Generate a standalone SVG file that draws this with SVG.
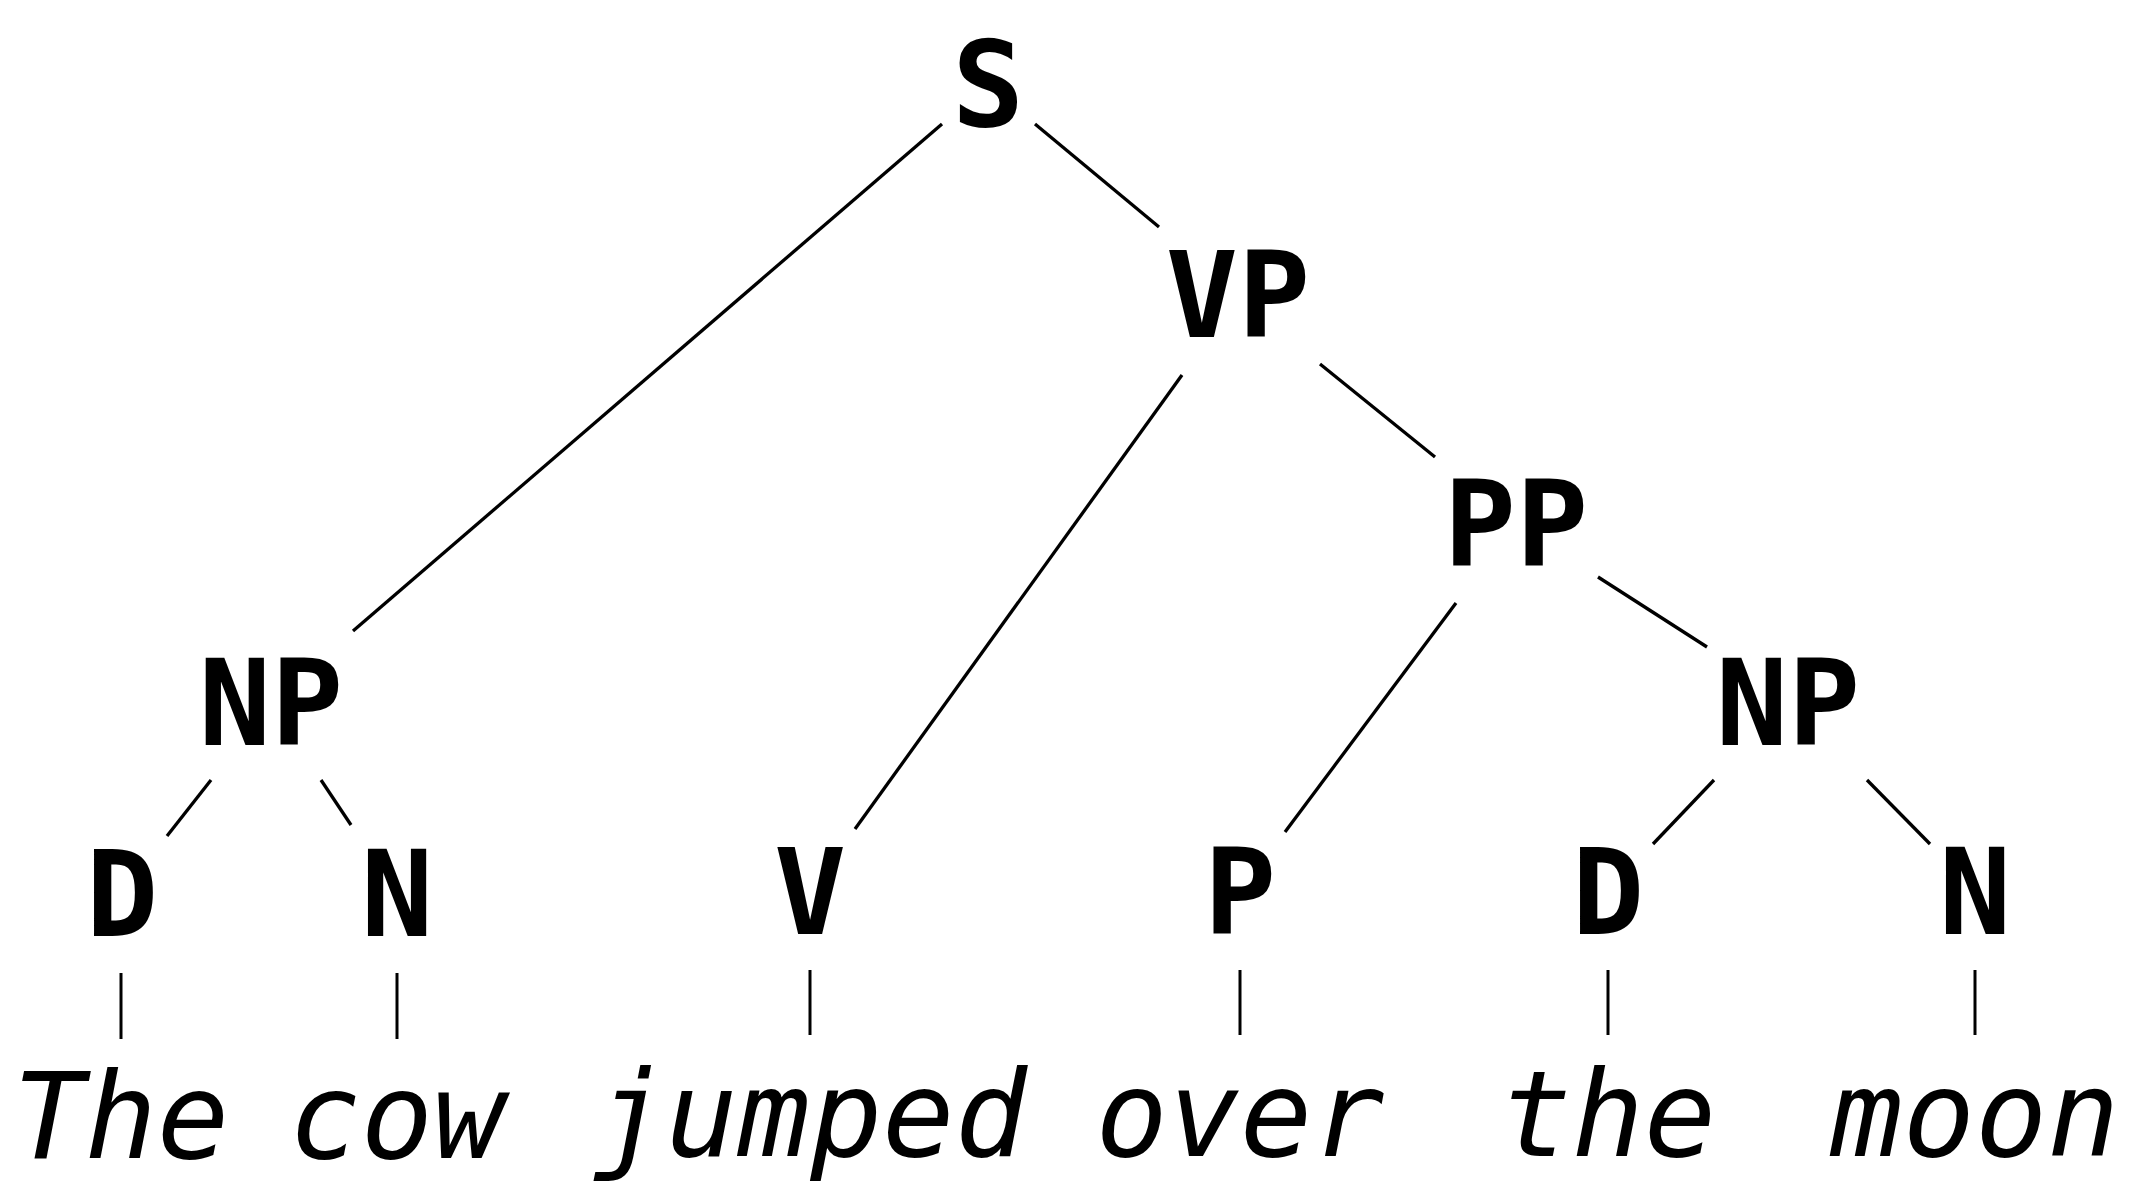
<svg xmlns="http://www.w3.org/2000/svg" width="2145" height="1196" viewBox="0 0 2145 1196">
<style>
.lbl{font-family:"DejaVu Sans Mono","Liberation Mono",monospace;font-weight:bold;font-size:120px;text-anchor:middle;fill:#000}
.word{font-family:"DejaVu Sans Mono","Liberation Mono",monospace;font-style:oblique;font-size:120px;text-anchor:middle;fill:#000}
.e{stroke:#000;stroke-width:3.3;fill:none}
.lf{stroke:#000;stroke-width:3;fill:none}
</style>
<rect width="2145" height="1196" fill="#fff"/>
<g id="connectors">
<line class="e" x1="942" y1="124" x2="353" y2="631"/>
<line class="e" x1="1035" y1="124" x2="1159" y2="227"/>
<line class="e" x1="1182" y1="375" x2="855" y2="829"/>
<line class="e" x1="1320" y1="364" x2="1435" y2="457"/>
<line class="e" x1="1456" y1="603" x2="1285" y2="832"/>
<line class="e" x1="1598" y1="577" x2="1707" y2="647"/>
<line class="e" x1="211" y1="780" x2="167" y2="836"/>
<line class="e" x1="321" y1="780" x2="351" y2="825"/>
<line class="e" x1="1714" y1="780" x2="1653" y2="844"/>
<line class="e" x1="1867" y1="780" x2="1930" y2="844"/>
<line class="lf" x1="121" y1="973" x2="121" y2="1039"/>
<line class="lf" x1="397" y1="973" x2="397" y2="1039"/>
<line class="lf" x1="810" y1="970" x2="810" y2="1035"/>
<line class="lf" x1="1240" y1="970" x2="1240" y2="1035"/>
<line class="lf" x1="1608" y1="970" x2="1608" y2="1035"/>
<line class="lf" x1="1975" y1="970" x2="1975" y2="1035"/>
</g>
<g id="node-S"><text class="lbl" x="988" y="126">S</text></g>
<g id="node-VP"><text class="lbl" x="1238" y="337">VP</text></g>
<g id="node-PP"><text class="lbl" x="1516" y="566">PP</text></g>
<g id="node-NP1"><text class="lbl" x="271" y="745">NP</text></g>
<g id="node-NP2"><text class="lbl" x="1788" y="745">NP</text></g>
<g id="node-D1"><text class="lbl" x="122" y="936">D</text></g>
<g id="node-N1"><text class="lbl" x="397" y="936">N</text></g>
<g id="node-V"><text class="lbl" x="810" y="934">V</text></g>
<g id="node-P"><text class="lbl" x="1240" y="934">P</text></g>
<g id="node-D2"><text class="lbl" x="1608" y="934">D</text></g>
<g id="node-N2"><text class="lbl" x="1975" y="934">N</text></g>
<g id="word-The"><text class="word" x="121" y="1158">The</text></g>
<g id="word-cow"><text class="word" x="397" y="1158">cow</text></g>
<g id="word-jumped"><text class="word" x="810" y="1156">jumped</text></g>
<g id="word-over"><text class="word" x="1240" y="1156">over</text></g>
<g id="word-the"><text class="word" x="1608" y="1156">the</text></g>
<g id="word-moon"><text class="word" x="1975" y="1156">moon</text></g>
</svg>
